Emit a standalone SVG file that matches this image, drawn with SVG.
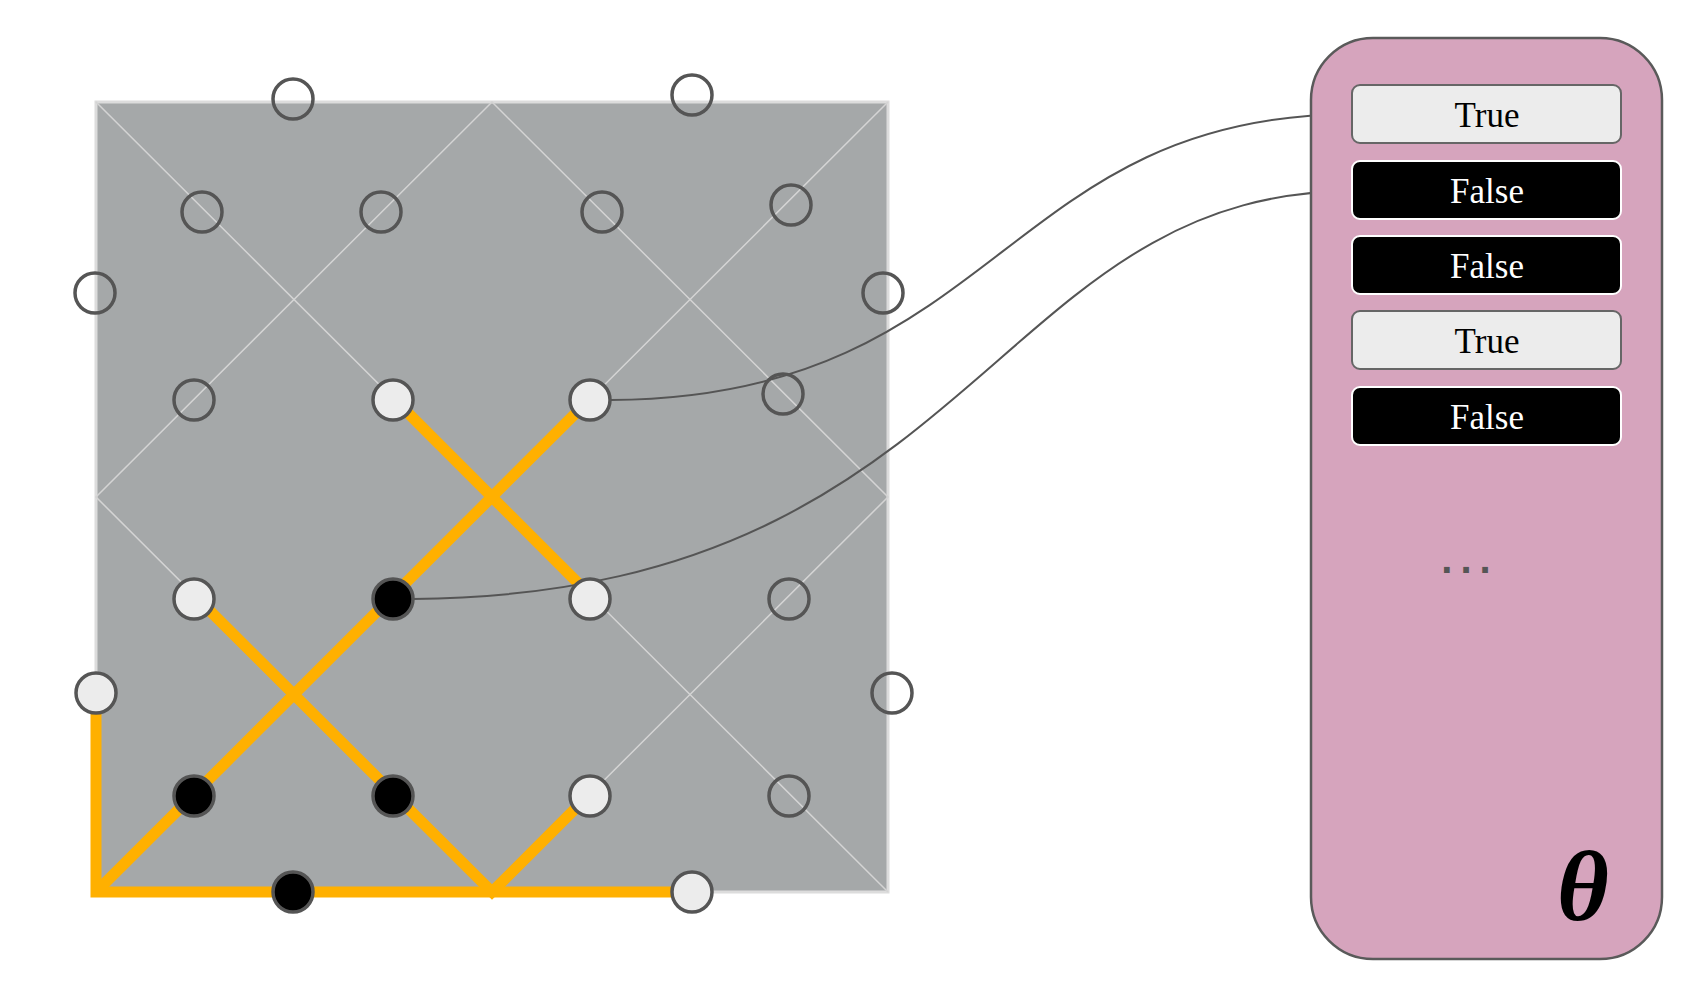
<svg xmlns="http://www.w3.org/2000/svg" width="1704" height="1000" viewBox="0 0 1704 1000">
<style>
.grid{stroke:#d4d4d4;stroke-width:1.5;fill:none}
.or{stroke:#ffb000;stroke-width:11;fill:none;stroke-linecap:butt;stroke-linejoin:miter}
.n{stroke:#555;stroke-width:3.5}
.o{fill:none}
.w{fill:#ececec}
.b{fill:#000}
.con{stroke:#555;stroke-width:2;fill:none}
.bt{fill:#ececec;stroke:#666;stroke-width:2}
.bf{fill:#000;stroke:#fff;stroke-width:2}
.t{font-family:"Liberation Serif",serif;font-size:35px;text-anchor:middle}
</style>
<rect width="1704" height="1000" fill="#fff"/>
<g id="board">
<rect x="96" y="102" width="792" height="790" fill="#a5a8a9" stroke="#dcdcdc" stroke-width="3"/>
<path class="grid" d="M96,102 L888,892 M888,102 L96,892 M492,102 L888,497 L492,892 L96,497 Z"/>
</g>
<g id="paths">
<path class="or" d="M393,398 L591,596"/>
<path class="or" d="M591,398 L96,892"/>
<path class="or" d="M195,596 L492,892 L591,793"/>
<path class="or" d="M96,694 L96,892 L690,892"/>
</g>
<g id="connectors">
<path class="con" d="M611,400 C1000,398 1000,116 1352,114"/>
<path class="con" d="M413,599 C980,594 990,193 1352,191"/>
</g>
<g id="nodes">
<circle class="n o" cx="293" cy="99" r="20"/>
<circle class="n o" cx="692" cy="95" r="20"/>
<circle class="n o" cx="202" cy="212" r="20"/>
<circle class="n o" cx="381" cy="212" r="20"/>
<circle class="n o" cx="602" cy="212" r="20"/>
<circle class="n o" cx="791" cy="205" r="20"/>
<circle class="n o" cx="95" cy="293" r="20"/>
<circle class="n o" cx="883" cy="293" r="20"/>
<circle class="n o" cx="194" cy="400" r="20"/>
<circle class="n o" cx="783" cy="394" r="20"/>
<circle class="n o" cx="789" cy="599" r="20"/>
<circle class="n o" cx="892" cy="693" r="20"/>
<circle class="n o" cx="789" cy="796" r="20"/>
<circle class="n w" cx="393" cy="400" r="20"/>
<circle class="n w" cx="590" cy="400" r="20"/>
<circle class="n w" cx="194" cy="599" r="20"/>
<circle class="n w" cx="590" cy="599" r="20"/>
<circle class="n w" cx="96" cy="693" r="20"/>
<circle class="n w" cx="590" cy="796" r="20"/>
<circle class="n w" cx="692" cy="892" r="20"/>
<circle class="n b" cx="393" cy="599" r="20"/>
<circle class="n b" cx="194" cy="796" r="20"/>
<circle class="n b" cx="393" cy="796" r="20"/>
<circle class="n b" cx="293" cy="892" r="20"/>
</g>
<g id="theta-panel">
<rect x="1311" y="38" width="351" height="921" rx="62" fill="#d6a4bd" stroke="#5a5a5a" stroke-width="2.5"/>
<rect class="bt" x="1352" y="85" width="269" height="58" rx="8"/>
<text class="t" x="1487" y="127" fill="#000">True</text>
<rect class="bf" x="1352" y="161" width="269" height="58" rx="8"/>
<text class="t" x="1487" y="203" fill="#fff">False</text>
<rect class="bf" x="1352" y="236" width="269" height="58" rx="8"/>
<text class="t" x="1487" y="278" fill="#fff">False</text>
<rect class="bt" x="1352" y="311" width="269" height="58" rx="8"/>
<text class="t" x="1487" y="353" fill="#000">True</text>
<rect class="bf" x="1352" y="387" width="269" height="58" rx="8"/>
<text class="t" x="1487" y="429" fill="#fff">False</text>
<text x="1470" y="573" font-family="Liberation Sans,sans-serif" font-size="40" font-weight="bold" fill="#555" text-anchor="middle" letter-spacing="8">...</text>
<text x="1583" y="920" font-family="Liberation Serif,serif" font-size="100" font-style="italic" font-weight="bold" fill="#000" text-anchor="middle">θ</text>
</g>
</svg>
